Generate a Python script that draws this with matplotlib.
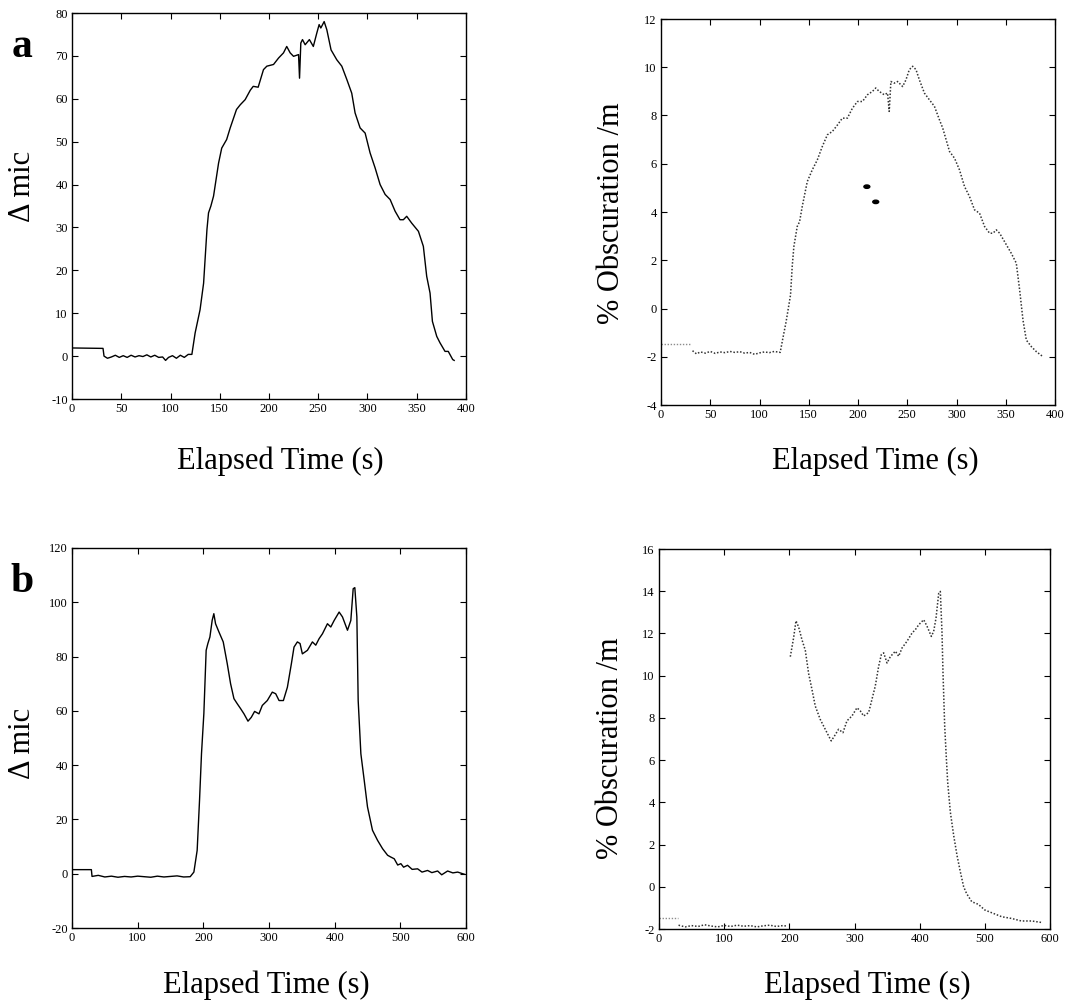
import numpy as np
import matplotlib.pyplot as plt
from matplotlib.patches import Ellipse

plt.rcParams['font.family'] = ['Liberation Serif', 'DejaVu Serif']
plt.rcParams['axes.unicode_minus'] = False

# ---- data ----
# (a) delta mic, 0-400 s
t_a_mic = [0, 31.5, 32.5, 36, 40, 44, 48, 52, 56, 60, 64, 68, 72, 76, 80, 84, 88, 92, 95, 98,
           102, 106, 110, 114, 118, 121.7, 125, 130, 133.6, 137, 138.6, 141, 143.7, 148.8, 152,
           157, 160.6, 167, 170.8, 175.8, 181, 184, 189, 194.4, 197.8, 204.6, 209.7, 214.7, 218,
           221.5, 224.9, 230, 231, 232.3, 234, 236.7, 241, 245, 248.5, 250.9, 252.6, 256, 258.7,
           263, 268.8, 273.9, 279, 284, 287.4, 292.5, 297.6, 302.6, 307.7, 312.8, 317.9, 323, 328,
           333, 336.4, 339.8, 344.9, 351.7, 356.7, 360.1, 363.5, 365.9, 370.3, 373.6, 378.7, 382,
           386.5, 388]
v_a_mic = [1.9, 1.8, 0.0, -0.5, -0.2, 0.2, -0.3, 0.1, -0.3, 0.2, -0.2, 0.1, -0.1, 0.3, -0.2, 0.2,
           -0.3, -0.2, -1.0, -0.3, 0.1, -0.5, 0.2, -0.3, 0.4, 0.4, 5.4, 10.8, 17.0, 29.5, 33.4, 35.0,
           37.3, 45.0, 48.5, 50.5, 53.2, 57.5, 58.6, 59.8, 62.0, 62.9, 62.7, 66.8, 67.6, 68.0, 69.5,
           70.7, 72.2, 70.7, 69.9, 70.3, 64.8, 73.0, 73.8, 72.6, 73.8, 72.2, 75.3, 77.3, 76.5, 78.0,
           76.1, 71.4, 69.1, 67.6, 64.5, 61.3, 56.7, 53.2, 52.0, 47.4, 43.9, 40.0, 37.7, 36.5, 33.8,
           31.8, 31.8, 32.6, 31.0, 29.1, 25.6, 18.6, 14.7, 8.1, 4.6, 3.1, 1.1, 1.1, -0.8, -1.0]

# (a) % obscuration /m
t_a_obs_pre = [0, 30]
v_a_obs_pre = [-1.49, -1.49]
t_a_obs = [32, 36, 40, 45, 50, 55, 60, 65, 70, 75, 80, 85, 90, 95, 100, 105, 110, 115, 121,
           123.7, 127, 131.5, 133.2, 134.9, 138.3, 140.7, 143.4, 148.5, 153.6, 158.7, 163.8,
           168.9, 174, 179, 184.1, 189.2, 194.3, 199.4, 204.5, 209.6, 214.7, 218, 221.5, 226.6,
           230, 231.7, 233.4, 236.8, 240.2, 245.3, 248.7, 252.1, 255.5, 258.9, 262.3, 267.4,
           272.5, 277.6, 282.7, 286, 289.5, 292.9, 298, 303, 308.1, 313.2, 318.3, 323.4, 328.5,
           333.6, 337, 340.4, 343.8, 348.8, 355.6, 360.7, 364.1, 367.5, 370.9, 376, 381.1, 387.9]
v_a_obs = [-1.75, -1.88, -1.8, -1.85, -1.78, -1.86, -1.8, -1.83, -1.78, -1.82, -1.79, -1.85,
           -1.82, -1.9, -1.84, -1.8, -1.83, -1.78, -1.82, -1.24, -0.55, 0.56, 1.74, 2.57, 3.4,
           3.6, 4.23, 5.26, 5.75, 6.16, 6.72, 7.2, 7.34, 7.6, 7.89, 7.89, 8.3, 8.58, 8.58, 8.86,
           9.0, 9.14, 9.0, 8.86, 8.93, 8.17, 9.41, 9.34, 9.41, 9.2, 9.48, 9.9, 10.04, 9.9, 9.48,
           8.93, 8.65, 8.38, 7.82, 7.48, 6.99, 6.51, 6.23, 5.75, 5.06, 4.64, 4.09, 3.95, 3.4, 3.12,
           3.12, 3.26, 3.12, 2.77, 2.29, 1.88, 0.77, -0.48, -1.31, -1.58, -1.79, -2.0]
t_spots = [209, 218]
v_spots = [5.05, 4.42]

# (b) delta mic, 0-600 s
t_b_mic = [0, 29.5, 30.5, 40, 50, 60, 70, 80, 90, 100, 110, 120, 130, 140, 150, 160, 170, 180,
           185.6, 190.6, 194.2, 197.2, 200.8, 204.3, 206.9, 210, 213.5, 216, 218.6, 223.7, 230.3,
           236.4, 241.5, 246.6, 251.7, 256.8, 261.9, 268, 273, 278.1, 284.7, 289.8, 297.4, 305,
           310.2, 315.3, 321.9, 328, 334.1, 338.1, 343.2, 347.3, 350.8, 358.5, 366.1, 371.2, 376.3,
           381.4, 389, 394.1, 399.2, 406.8, 411.9, 419.5, 424.6, 428.2, 430.7, 433.8, 435.8, 439.9,
           445, 450, 457.6, 465.3, 473, 480.6, 485, 490.7, 496, 500.8, 505, 511, 518, 526.3, 533,
           541.5, 548, 556.8, 563, 572, 580, 587.3, 597.5]
v_b_mic = [1.5, 1.5, -1.0, -0.6, -1.2, -0.9, -1.3, -1.0, -1.2, -0.9, -1.1, -1.3, -0.9, -1.2,
           -1.0, -0.8, -1.2, -1.1, 0.6, 8.6, 27.0, 44.2, 59.0, 82.3, 84.8, 87.2, 93.4, 95.8, 92.1,
           89.1, 85.4, 77.4, 70.0, 64.5, 62.6, 60.8, 58.9, 56.2, 57.6, 59.8, 58.9, 62.0, 63.8, 66.9,
           66.3, 63.8, 63.8, 68.7, 77.4, 83.5, 85.4, 84.8, 81.0, 82.3, 85.4, 84.2, 86.6, 88.4, 92.1,
           90.9, 93.3, 96.4, 94.6, 89.7, 93.3, 105.0, 105.4, 94.6, 63.8, 44.2, 34.4, 24.6, 16.0,
           12.3, 9.2, 6.8, 6.2, 5.5, 3.2, 3.7, 2.4, 3.1, 1.6, 1.8, 0.6, 1.2, 0.4, 1.0, -0.4, 1.0,
           0.3, 0.6, -0.2]

# (b) % obscuration /m
t_b_obs_pre = [0, 29]
v_b_obs_pre = [-1.5, -1.5]
t_b_obs_base = [30, 40, 50, 60, 70, 80, 90, 100, 110, 120, 130, 140, 150, 160, 170, 180, 190, 196]
v_b_obs_base = [-1.82, -1.9, -1.84, -1.88, -1.8, -1.86, -1.9, -1.83, -1.88, -1.82, -1.87, -1.84,
                -1.9, -1.85, -1.82, -1.88, -1.84, -1.86]
t_b_obs = [201.5, 206.6, 210.2, 214.3, 219.4, 224.5, 229.6, 234.7, 239.8, 247.4, 255.1, 260.2,
           264.3, 269.4, 275.5, 282.3, 288.4, 296.1, 303.8, 308.9, 314, 321.7, 326.8, 331.9,
           337.1, 341.2, 344.8, 349.9, 355, 362.7, 367.8, 372.9, 380.6, 388.3, 393.4, 398.5,
           406.2, 411.3, 417.9, 421.5, 425.1, 429.2, 431.7, 434.3, 435.8, 438.4, 441, 443, 447.1,
           452.2, 457.3, 462.4, 467.5, 472, 480, 490, 500, 513, 526, 541, 556, 572, 587]
v_b_obs = [10.9, 11.8, 12.6, 12.3, 11.7, 11.2, 10.1, 9.35, 8.56, 7.93, 7.46, 7.15, 6.91, 7.15,
           7.46, 7.3, 7.86, 8.09, 8.48, 8.33, 8.09, 8.25, 8.88, 9.51, 10.45, 11.0, 11.08, 10.6,
           10.9, 11.16, 10.92, 11.31, 11.63, 12.02, 12.18, 12.41, 12.65, 12.34, 11.86, 12.1, 12.73,
           13.9, 13.99, 12.02, 10.13, 7.62, 6.05, 4.95, 3.53, 2.43, 1.49, 0.71, 0.0, -0.32, -0.71,
           -0.83, -1.1, -1.26, -1.42, -1.5, -1.62, -1.62, -1.69]

W, H = 1091, 1005
fig = plt.figure(figsize=(W / 100, H / 100), dpi=100)


def make_axes(px_left, px_top, px_right, px_bottom):
    ax = fig.add_axes([px_left / W, 1 - px_bottom / H, (px_right - px_left) / W,
                       (px_bottom - px_top) / H])
    ax.tick_params(direction='in', length=4, width=0.8, top=True, right=True,
                   labelsize=9, pad=3)
    for s in ax.spines.values():
        s.set_linewidth(1.0)
    return ax


dot = dict(color='0.2', lw=1.1, ls=(0, (1, 1.2)))

# top left
ax1 = make_axes(72, 13, 466, 399)
ax1.plot(t_a_mic, v_a_mic, color='k', lw=1.0)
ax1.set_xlim(0, 400)
ax1.set_ylim(-10, 80)
ax1.set_xticks(np.arange(0, 401, 50))
ax1.set_yticks(np.arange(-10, 81, 10))

# top right
ax2 = make_axes(661, 19, 1055, 405)
ax2.plot(t_a_obs_pre, v_a_obs_pre, color='0.55', lw=1.0, ls=(0, (1, 1.2)))
ax2.plot(t_a_obs, v_a_obs, **dot)
# two ink spots on the original scan
for x, y in zip(t_spots, v_spots):
    ax2.add_patch(Ellipse((x, y), 6, 0.14, angle=0, color='k'))
ax2.set_xlim(0, 400)
ax2.set_ylim(-4, 12)
ax2.set_xticks(np.arange(0, 401, 50))
ax2.set_yticks(np.arange(-4, 13, 2))

# bottom left
ax3 = make_axes(72, 548, 466, 928)
ax3.plot(t_b_mic, v_b_mic, color='k', lw=1.0)
ax3.set_xlim(0, 600)
ax3.set_ylim(-20, 120)
ax3.set_xticks(np.arange(0, 601, 100))
ax3.set_yticks(np.arange(-20, 121, 20))

# bottom right
ax4 = make_axes(659, 549, 1050, 929)
ax4.plot(t_b_obs_pre, v_b_obs_pre, color='0.55', lw=1.0, ls=(0, (1, 1.2)))
ax4.plot(t_b_obs_base, v_b_obs_base, **dot)
ax4.plot(t_b_obs, v_b_obs, **dot)
ax4.set_xlim(0, 600)
ax4.set_ylim(-2, 16)
ax4.set_xticks(np.arange(0, 601, 100))
ax4.set_yticks(np.arange(-2, 17, 2))

# labels placed in pixel positions
lab = dict(fontsize=22, ha='center', va='center')
fig.text(22 / W, 1 - 186 / H, '\u0394 mic', rotation=90, **lab)
fig.text(22 / W, 1 - 743 / H, '\u0394 mic', rotation=90, **lab)
fig.text(612 / W, 1 - 213 / H, '% Obscuration /m', rotation=90, **lab)
fig.text(610 / W, 1 - 748 / H, '% Obscuration /m', rotation=90, **lab)
fig.text(280 / W, 1 - 461 / H, 'Elapsed Time (s)', **lab)
fig.text(875 / W, 1 - 461 / H, 'Elapsed Time (s)', **lab)
fig.text(266 / W, 1 - 985 / H, 'Elapsed Time (s)', **lab)
fig.text(867 / W, 1 - 985 / H, 'Elapsed Time (s)', **lab)
fig.text(12 / W, 1 - 57 / H, 'a', fontsize=30, fontweight='bold', va='baseline')
fig.text(10 / W, 1 - 592 / H, 'b', fontsize=30, fontweight='bold', va='baseline')

fig.savefig('out.png', dpi=100)
